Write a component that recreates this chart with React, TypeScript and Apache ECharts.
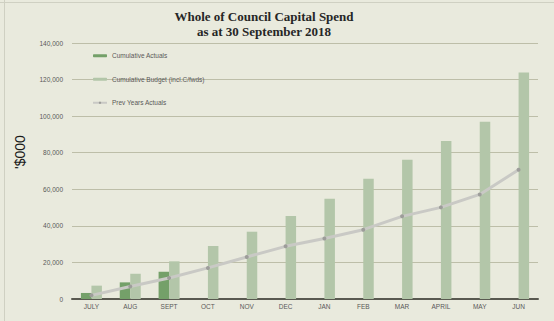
import React, { useEffect, useRef } from "react";
import * as echarts from "echarts";

const categories = ["JULY", "AUG", "SEPT", "OCT", "NOV", "DEC", "JAN", "FEB", "MAR", "APRIL", "MAY", "JUN"];
const actuals: (number | null)[] = [3300, 9100, 14900, null, null, null, null, null, null, null, null, null];
const budget = [7300, 13800, 20600, 29000, 36800, 45400, 54800, 65800, 76200, 86400, 96900, 123900];
const prevYears = [2000, 6800, 11500, 17000, 23000, 28800, 33100, 37900, 45200, 50100, 57200, 70700];
const yTicks = { min: 0, max: 140000, interval: 20000 };

export default function App() {
  const ref = useRef<HTMLDivElement>(null);
  useEffect(() => {
    document.body.style.margin = "0";
    const chart = echarts.init(ref.current!, undefined, { renderer: "svg" });
    const labelFont = "Liberation Sans";
    chart.setOption({
      animation: false,
      backgroundColor: "#e9eadd",
      textStyle: { fontFamily: labelFont },
      graphic: [
        {
          type: "line",
          shape: { x1: 4.5, y1: 0, x2: 4.5, y2: 321 },
          style: { stroke: "#cfd0c2", lineWidth: 1 },
        },
        {
          type: "line",
          shape: { x1: 0, y1: 2.5, x2: 554, y2: 2.5 },
          style: { stroke: "#cfd0c2", lineWidth: 1 },
        },
        {
          type: "text",
          x: 264,
          y: 9,
          style: {
            text: "Whole of Council Capital Spend\nas at 30 September 2018",
            font: "bold 13px 'Liberation Serif'",
            fill: "#262626",
            align: "center",
            verticalAlign: "top",
            lineHeight: 15,
          },
        },
        {
          type: "text",
          x: 20,
          y: 152,
          rotation: Math.PI / 2,
          style: {
            text: "'$000",
            font: "14px 'Liberation Sans'",
            fill: "#1a1a1a",
            align: "center",
            verticalAlign: "middle",
          },
        },
      ],
      legend: {
        orient: "vertical",
        left: 87,
        top: 46,
        itemWidth: 14,
        itemHeight: 3,
        itemGap: 14,
        textStyle: { fontSize: 6.5, color: "#595959", lineHeight: 9.5, fontFamily: labelFont },
        data: [
          { name: "Cumulative Actuals" },
          { name: "Cumulative Budget (incl.C/fwds)" },
          { name: "Prev Years Actuals" },
        ],
      },
      grid: { left: 72, right: 16, top: 43, bottom: 22 },
      xAxis: {
        type: "category",
        data: categories,
        boundaryGap: true,
        axisLine: { lineStyle: { color: "#595950", width: 2 } },
        axisTick: { show: false },
        axisLabel: { fontSize: 6.5, color: "#595959", margin: 4 },
      },
      yAxis: {
        type: "value",
        min: yTicks.min,
        max: yTicks.max,
        interval: yTicks.interval,
        axisLine: { show: false },
        axisTick: { show: false },
        splitLine: { lineStyle: { color: "#bdbea8", width: 1 } },
        axisLabel: {
          fontSize: 6.5,
          color: "#595959",
          margin: 9,
          formatter: (v: number) => v.toLocaleString("en-US"),
        },
      },
      series: [
        {
          name: "Cumulative Actuals",
          type: "bar",
          data: actuals,
          barWidth: 10.5,
          barGap: "0%",
          itemStyle: { color: "#74a069" },
        },
        {
          name: "Cumulative Budget (incl.C/fwds)",
          type: "bar",
          data: budget,
          barWidth: 10.5,
          barGap: "0%",
          itemStyle: { color: "#b3c6a9" },
        },
        {
          name: "Prev Years Actuals",
          type: "line",
          data: prevYears,
          symbol: "circle",
          symbolSize: 4,
          lineStyle: { color: "#c9c9c5", width: 3 },
          itemStyle: { color: "#9d9d9a" },
          z: 5,
        },
      ],
    });
    return () => chart.dispose();
  }, []);
  return <div ref={ref} style={{ width: 554, height: 321 }} />;
}
